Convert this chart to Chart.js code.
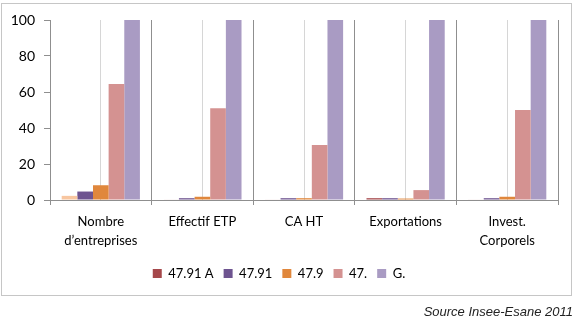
<!DOCTYPE html>
<html>
<head>
<meta charset="utf-8">
<script src="https://cdn.jsdelivr.net/npm/chart.js@4"></script>
<style>
  body { margin: 0; background: #fff; }
  #wrap { position: relative; width: 576px; height: 324px; }
  #frame { position: absolute; left: 1px; top: 3px; width: 571px; height: 293px; border: 1px solid #c6c6c6; box-sizing: border-box; }
  #chart { position: absolute; left: 0; top: 0; }
  #source { position: absolute; right: 3px; top: 304px; font: italic 13px "Liberation Sans", Arial, sans-serif; color: #222; }
</style>
</head>
<body>
<div id="wrap">
  <div id="frame"></div>
  <canvas id="chart" width="576" height="324"></canvas>
  <div id="source">Source Insee-Esane 2011</div>
</div>
<script>
// categories and series (percent of G.)
const categories = [['Nombre', 'd’entreprises'], 'Effectif ETP', 'CA HT', 'Exportations', ['Invest.', 'Corporels']]
const series_names = ['47.91 A', '47.91', '47.9', '47.', 'G.']
const v_47_91_a = [2.3, 0.3, 0.3, 1.0, 0.3]
const v_47_91 = [4.7, 1.0, 1.0, 1.0, 1.0]
const v_47_9 = [8.2, 1.8, 1.0, 0.8, 1.8]
const v_47 = [64.5, 51, 30.5, 5.5, 50]
const v_g = [100, 100, 100, 100, 100]
const y_ticks = [0, 20, 40, 60, 80, 100]

const series_values = [v_47_91_a, v_47_91, v_47_9, v_47, v_g]
const series_colors = ['#a5484b', '#6e5490', '#e0873c', '#d49291', '#a99bc3']

const font_family = 'Lato, "Open Sans", sans-serif'

const datasets = series_values.map((vals, i) => ({
  label: series_names[i],
  data: vals,
  // the first bar of 47.91 A is lighter in the source picture
  backgroundColor: i === 0 ? vals.map((v, j) => j === 0 ? '#f8c6a0' : series_colors[0]) : series_colors[i],
  borderWidth: 0,
  categoryPercentage: 0.77,
  barPercentage: 1.0,
  xAxisID: 'x'
}))

const ctx = document.getElementById('chart').getContext('2d');

new Chart(ctx, {
  type: 'bar',
  data: { labels: categories, datasets: datasets },
  options: {
    responsive: false,
    animation: false,
    layout: { padding: { left: 0, right: 18, top: 20, bottom: 34 } },
    plugins: {
      tooltip: { enabled: false },
      legend: {
        position: 'bottom',
        labels: {
          color: '#000',
          font: { family: font_family, size: 13 },
          boxWidth: 9,
          boxHeight: 9,
          padding: 10,
          generateLabels: chart => series_names.map((name, i) => ({
            text: name,
            fillStyle: series_colors[i],
            strokeStyle: series_colors[i],
            lineWidth: 0,
            datasetIndex: i
          }))
        }
      }
    },
    scales: {
      x: {
        type: 'category',
        position: 'bottom',
        grid: { offset: true, color: '#8f8f8f', tickLength: 5, lineWidth: 1 },
        border: { color: '#8f8f8f' },
        ticks: { color: '#000', font: { family: font_family, size: 13, lineHeight: 1.5 }, padding: 7, maxRotation: 0 },
        afterFit: scale => { scale.height = 57 }
      },
      xc: {
        type: 'category',
        position: 'bottom',
        labels: categories,
        grid: { offset: false, color: '#d6d6d6', drawTicks: false },
        border: { display: false },
        ticks: { display: false },
        afterFit: scale => { scale.height = 0 }
      },
      y: {
        min: 0,
        max: 100,
        afterBuildTicks: scale => { scale.ticks = y_ticks.map(v => ({ value: v })) },
        grid: { drawOnChartArea: false, color: '#8f8f8f', tickLength: 6 },
        border: { color: '#8f8f8f' },
        ticks: { color: '#000', font: { family: font_family, size: 14 }, padding: 9 },
        afterFit: scale => { scale.width = 50 }
      }
    }
  }
});
</script>
</body>
</html>
